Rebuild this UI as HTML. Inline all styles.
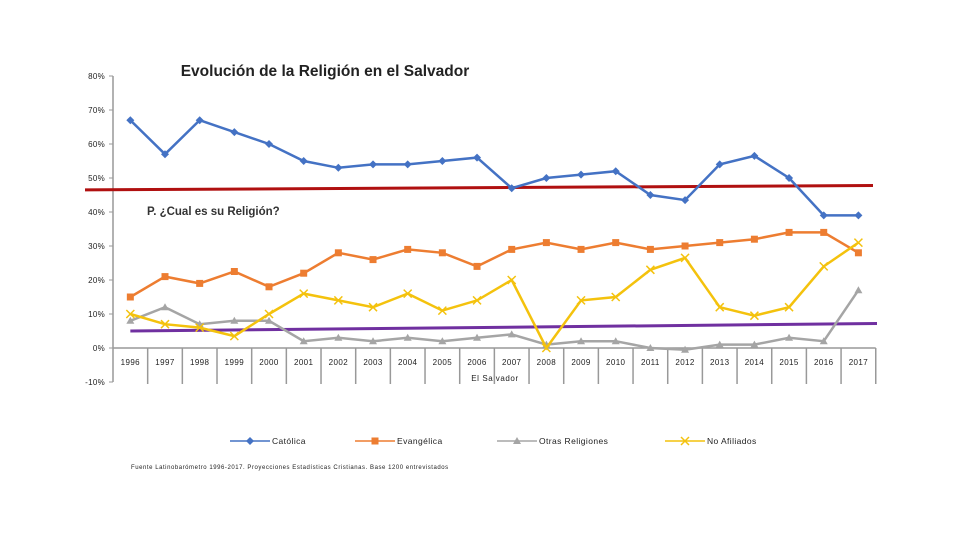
<!DOCTYPE html>
<html><head><meta charset="utf-8">
<style>
body{margin:0;background:#fff;font-family:"Liberation Sans",sans-serif;}
svg text{font-family:"Liberation Sans",sans-serif;}
</style></head><body>
<svg width="960" height="540" viewBox="0 0 960 540" id="chart">
<text x="325" y="76" font-size="15.5" font-weight="bold" text-anchor="middle" fill="#222">Evolución de la Religión en  el Salvador</text>
<text x="147" y="215" font-size="11.5" font-weight="bold" fill="#333">P. ¿Cual es su Religión?</text>
<text x="495" y="381" font-size="8" letter-spacing="0.6" text-anchor="middle" fill="#222">El Salvador</text>
<text x="131" y="469" font-size="6" letter-spacing="0.55" fill="#222">Fuente Latinobarómetro 1996-2017. Proyecciones Estadísticas Cristianas. Base 1200 entrevistados</text>
<g id="axes"></g><g id="series"></g><g id="legend"></g>
</svg>
<script>
const years=["1996","1997","1998","1999","2000","2001","2002","2003","2004","2005","2006","2007","2008","2009","2010","2011","2012","2013","2014","2015","2016","2017"];
const catolica=[67,57,67,63.5,60,55,53,54,54,55,56,47,50,51,52,45,43.5,54,56.5,50,39,39];
const evangelica=[15,21,19,22.5,18,22,28,26,29,28,24,29,31,29,31,29,30,31,32,34,34,28];
const otras=[8,12,7,8,8,2,3,2,3,2,3,4,1,2,2,0,-0.5,1,1,3,2,17];
const noAfiliados=[10,7,6,3.5,10,16,14,12,16,11,14,20,0,14,15,23,26.5,12,9.5,12,24,31];
const yTicks=[-10,0,10,20,30,40,50,60,70,80];
const redTrend=[46.5,47.8];
const purpleTrend=[5,7.2];
const NS="http://www.w3.org/2000/svg";
const x0=113,bw=34.67;
const X=i=>x0+bw*(i+0.5);
const Y=v=>348-v*3.4;
function mk(t,a,p){const e=document.createElementNS(NS,t);for(const k in a)e.setAttribute(k,a[k]);p.appendChild(e);return e;}
const ax=document.getElementById('axes');
mk('line',{x1:x0,y1:Y(80),x2:x0,y2:Y(-10),stroke:'#999','stroke-width':1.5},ax);
yTicks.forEach(t=>{
 const tk=mk('line',{x1:x0-4,y1:Y(t),x2:x0,y2:Y(t),stroke:'#999'},ax);
 
 
 const tx=mk('text',{x:x0-8,y:Y(t)+3,'font-size':8,'letter-spacing':0.3,'text-anchor':'end',fill:'#222'},ax);
 tx.textContent=t+'%';
 
 
});
mk('line',{x1:x0,y1:Y(0),x2:x0+bw*years.length,y2:Y(0),stroke:'#999','stroke-width':1.5},ax);
years.forEach((y,i)=>{
 const l=mk('line',{x1:x0+bw*(i+1),y1:Y(0),x2:x0+bw*(i+1),y2:Y(0)+36,stroke:'#999','stroke-width':1.5},ax);
 
 
 const t=mk('text',{x:X(i),y:Y(0)+17,'font-size':8,'letter-spacing':0.4,'text-anchor':'middle',fill:'#222'},ax);
 t.textContent=y;
 
 
});
const sg=document.getElementById('series');
const rt=mk('line',{x1:85,y1:Y(redTrend[0]),x2:873,y2:Y(redTrend[1]),stroke:'#b01010','stroke-width':3},sg);


const pt=mk('line',{x1:X(0),y1:Y(purpleTrend[0]),x2:877,y2:Y(purpleTrend[1]),stroke:'#7030a0','stroke-width':3},sg);


function marker(type,x,y,c,p){
 if(type==='diamond')return mk('path',{d:`M${x},${y-4}L${x+4},${y}L${x},${y+4}L${x-4},${y}Z`,fill:c},p);
 if(type==='square')return mk('rect',{x:x-3.5,y:y-3.5,width:7,height:7,fill:c},p);
 if(type==='triangle')return mk('path',{d:`M${x},${y-4}L${x+4},${y+3}L${x-4},${y+3}Z`,fill:c},p);
 return mk('path',{d:`M${x-4},${y-4}L${x+4},${y+4}M${x+4},${y-4}L${x-4},${y+4}`,stroke:c,'stroke-width':1.5,fill:'none'},p);
}
const series=[
 {name:'Católica',data:catolica,c:'#4472c4',m:'diamond',id:'catolica'},
 {name:'Evangélica',data:evangelica,c:'#ed7d31',m:'square',id:'evangelica'},
 {name:'Otras Religiones',data:otras,c:'#a5a5a5',m:'triangle',id:'otras'},
 {name:'No Afiliados',data:noAfiliados,c:'#f4c20d',m:'x',id:'no-afiliados'}];
series.forEach(s=>{
 const g=mk('g',{},sg);
 
 
 const path=mk('polyline',{points:s.data.map((v,i)=>X(i)+','+Y(v)).join(' '),fill:'none',stroke:s.c,'stroke-width':2.5},g);
 
 
 s.data.forEach((v,i)=>{const m=marker(s.m,X(i),Y(v),s.c,g);
  
  });
});
const lg=document.getElementById('legend');
const lx=[230,355,497,665];
series.forEach((s,i)=>{
 const g=mk('g',{},lg);
 
 
 mk('line',{x1:lx[i],y1:441,x2:lx[i]+40,y2:441,stroke:s.c,'stroke-width':1.5},g);
 marker(s.m,lx[i]+20,441,s.c,g);
 const t=mk('text',{x:lx[i]+42,y:444,'font-size':8.5,'letter-spacing':0.4,fill:'#222'},g);
 t.textContent=s.name;
});
</script>
</body></html>
